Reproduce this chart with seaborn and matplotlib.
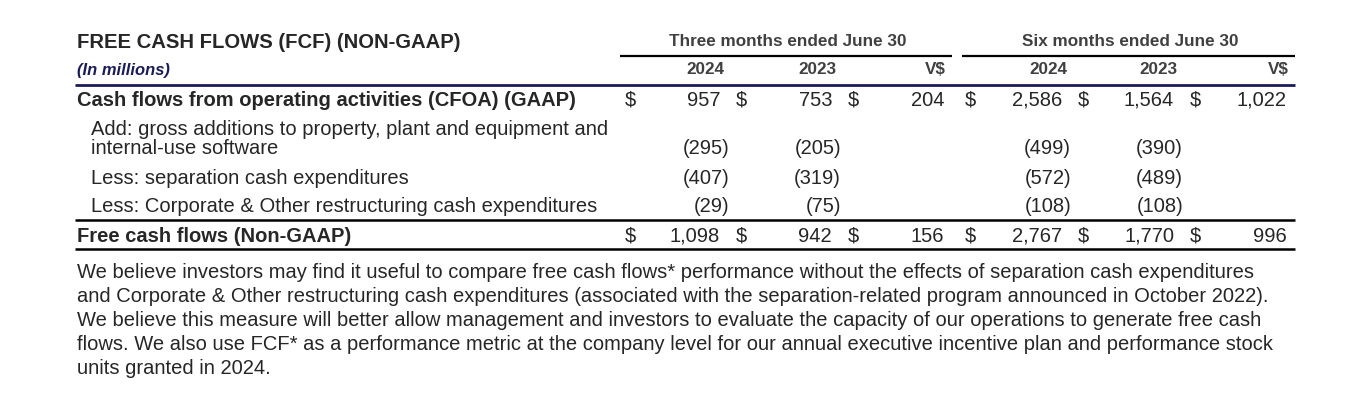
import matplotlib.pyplot as plt
import seaborn as sns

# table content
title = "FREE CASH FLOWS (FCF) (NON-GAAP)"
subtitle = "(In millions)"
period_labels = ["Three months ended June 30", "Six months ended June 30"]
column_labels = ["2024", "2023", "V$", "2024", "2023", "V$"]

row_labels = [
    "Cash flows from operating activities (CFOA) (GAAP)",
    "Add: gross additions to property, plant and equipment and\ninternal-use software",
    "Less: separation cash expenditures",
    "Less: Corporate & Other restructuring cash expenditures",
    "Free cash flows (Non-GAAP)",
]
cfoa = [957, 753, 204, 2586, 1564, 1022]
gross_additions = [-295, -205, None, -499, -390, None]
separation = [-407, -319, None, -572, -489, None]
restructuring = [-29, -75, None, -108, -108, None]
fcf = [1098, 942, 156, 2767, 1770, 996]
row_values = [cfoa, gross_additions, separation, restructuring, fcf]
dollar_rows = [True, False, False, False, True]
bold_rows = [True, False, False, False, True]

note = (
    "We believe investors may find it useful to compare free cash flows* performance without the effects of separation cash expenditures\n"
    "and Corporate & Other restructuring cash expenditures (associated with the separation-related program announced in October 2022).\n"
    "We believe this measure will better allow management and investors to evaluate the capacity of our operations to generate free cash\n"
    "flows. We also use FCF* as a performance metric at the company level for our annual executive incentive plan and performance stock\n"
    "units granted in 2024."
)

sns.set_theme(style="white")
plt.rcParams["font.family"] = ["Liberation Sans", "DejaVu Sans"]

W, H = 1358, 403
fig = plt.figure(figsize=(W / 100, H / 100), dpi=100)
ax = fig.add_axes([0, 0, 1, 1])
ax.set_xlim(0, W)
ax.set_ylim(H, 0)
ax.axis("off")

fs = 14.5
hfs = 12.3
gray = "#404040"
navy = "#1b1b55"

# column geometry (pixels)
num_right = [720, 832, 944, 1062, 1174, 1287]
dollar_x = [630, 741, 853, 970, 1083, 1195]
head_center = [705, 817, None, 1048, 1158, None]


def fmt(v):
    if v is None:
        return ""
    if v < 0:
        return f"({-v:,})"
    return f"{v:,}"


# header
ax.text(77, 43, title, fontsize=14.6, fontweight="bold", va="center", ha="left")
ax.text(788, 42, period_labels[0], fontsize=hfs, fontweight="bold", color=gray,
        va="center", ha="center")
ax.text(1130, 42, period_labels[1], fontsize=hfs, fontweight="bold", color=gray,
        va="center", ha="center")
ax.plot([620, 952], [56, 56], color="black", lw=1.6, solid_capstyle="butt")
ax.plot([962, 1295], [56, 56], color="black", lw=1.6, solid_capstyle="butt")

ax.text(77, 70, subtitle, fontsize=11.9, fontweight="bold", fontstyle="italic",
        color=navy, va="center", ha="left")
for i, lab in enumerate(column_labels):
    if head_center[i] is None:
        ax.text(num_right[i] + 2, 70, lab, fontsize=hfs, fontweight="bold", color=gray,
                va="center", ha="right")
    else:
        ax.text(head_center[i], 70, lab, fontsize=hfs, fontweight="bold", color=gray,
                va="center", ha="center")
ax.plot([75, 1295], [85, 85], color=navy, lw=2.0, solid_capstyle="butt")

# body rows
row_y = [100, 149, 178, 207, 236]
label_y = [100, 139, 178, 207, 236]
label_x = [77, 91, 91, 91, 77]
for r, lab in enumerate(row_labels):
    weight = "bold" if bold_rows[r] else "normal"
    ax.text(label_x[r], label_y[r], lab, fontsize=fs, fontweight=weight, va="center",
            ha="left", linespacing=1.0)
    for c, v in enumerate(row_values[r]):
        s = fmt(v)
        if not s:
            continue
        if dollar_rows[r]:
            ax.text(dollar_x[c], row_y[r], "$", fontsize=fs, va="center", ha="center")
        xr = num_right[c] + (9 if v < 0 else 0)
        ax.text(xr, row_y[r], s, fontsize=fs, va="center", ha="right")

ax.plot([75, 1295], [220, 220], color="black", lw=1.8, solid_capstyle="butt")
ax.plot([75, 1295], [249, 249], color="black", lw=1.8, solid_capstyle="butt")

ax.text(77, 263, note, fontsize=fs, va="top", ha="left", linespacing=1.335)

fig.savefig("out.png", dpi=100)
